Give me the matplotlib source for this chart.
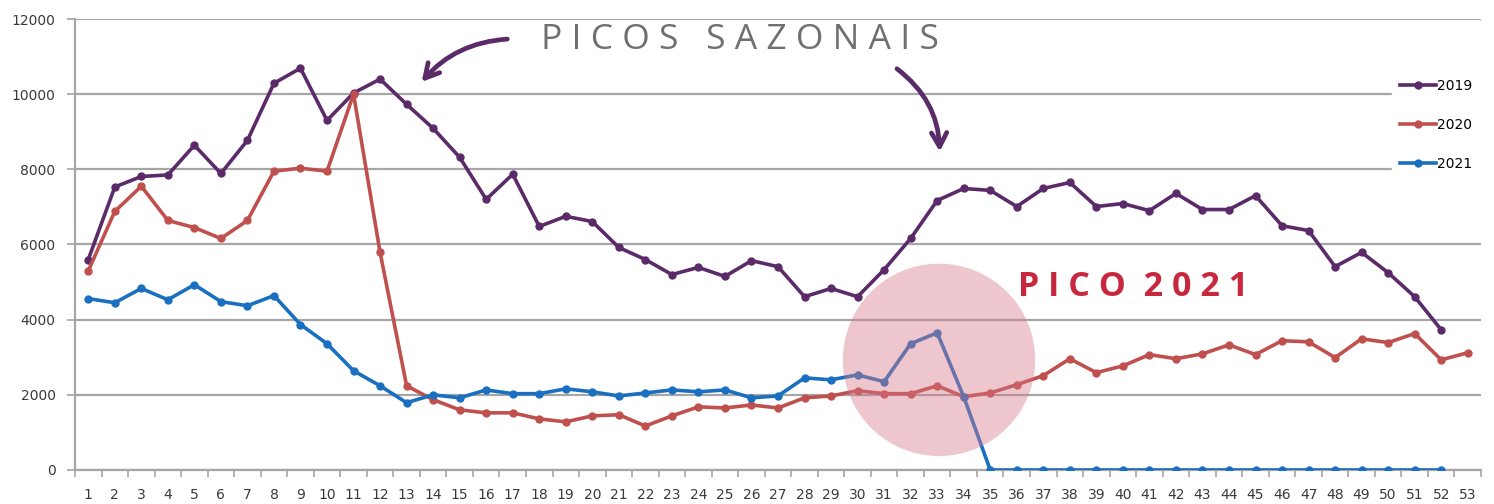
import numpy as np
import matplotlib
matplotlib.use('Agg')
import matplotlib.pyplot as plt
from matplotlib.patches import Ellipse

# weekly values (epidemiological weeks 1-53)
weeks = list(range(1, 54))

cases_2019 = [5600, 7530, 7810, 7850, 8640, 7890, 8770, 10290, 10690, 9300,
              10030, 10400, 9730, 9090, 8320, 7200, 7870, 6480, 6750, 6610,
              5920, 5600, 5200, 5390, 5150, 5570, 5410, 4610, 4830, 4610,
              5330, 6160, 7170, 7490, 7440, 7010, 7490, 7650, 7010, 7090,
              6900, 7360, 6930, 6930, 7300, 6500, 6370, 5410, 5790, 5250,
              4610, 3730]

cases_2020 = [5300, 6880, 7550, 6640, 6450, 6160, 6640, 7950, 8030, 7950,
              10000, 5790, 2240, 1870, 1600, 1520, 1520, 1360, 1280, 1440,
              1470, 1170, 1440, 1680, 1650, 1730, 1650, 1920, 1970, 2110,
              2030, 2030, 2240, 1950, 2050, 2270, 2510, 2960, 2590, 2770,
              3070, 2960, 3090, 3330, 3070, 3440, 3410, 2990, 3490, 3390,
              3630, 2930, 3120]

cases_2021 = [4560, 4450, 4830, 4530, 4930, 4480, 4370, 4640, 3870, 3360,
              2640, 2240, 1790, 2000, 1920, 2130, 2030, 2030, 2160, 2080,
              1970, 2050, 2130, 2080, 2130, 1920, 1970, 2450, 2400, 2530,
              2350, 3360, 3650, 1950, 0, 0, 0, 0, 0, 0,
              0, 0, 0, 0, 0, 0, 0, 0, 0, 0,
              0, 0]

purple = '#5b2a68'
red = '#c0504d'
blue = '#1a6fc0'

fig = plt.figure(figsize=(14.94, 5.04), dpi=100)
ax = fig.add_axes([0.0502, 0.0675, 0.9411, 0.8948])

ax.plot(weeks[:len(cases_2019)], cases_2019, color=purple, lw=2.6, marker='o', ms=5, label='2019', zorder=3)
ax.plot(weeks[:len(cases_2020)], cases_2020, color=red, lw=2.6, marker='o', ms=5, label='2020', zorder=3)
ax.plot(weeks[:len(cases_2021)], cases_2021, color=blue, lw=2.6, marker='o', ms=5, label='2021', zorder=3)

ax.set_xlim(0.5, 53.5)
ax.set_ylim(0, 12000)
ax.set_yticks(range(0, 12001, 2000))
ax.yaxis.grid(True, color='#a6a6a6', lw=1.6, zorder=0)
ax.set_axisbelow(True)

# category axis: tick marks between weeks, labels on weeks
ax.set_xticks(np.arange(0.5, 54, 1))
ax.set_xticklabels([])
ax.set_xticks(weeks, minor=True)
ax.set_xticklabels([str(w) for w in weeks], minor=True)
ax.tick_params(axis='x', which='major', length=5, width=1.2, color='#a6a6a6', direction='out')
ax.tick_params(axis='x', which='minor', length=0, pad=13, labelsize=10, labelcolor='#3a3a3a')
ax.tick_params(axis='y', length=6, width=1.2, color='#a6a6a6', labelsize=10, labelcolor='#3a3a3a', pad=8)

for s in ['top', 'right']:
    ax.spines[s].set_visible(False)
for s in ['left', 'bottom']:
    ax.spines[s].set_color('#a6a6a6')
    ax.spines[s].set_linewidth(1.6)

leg = ax.legend(loc='upper right', bbox_to_anchor=(1.0, 0.885), frameon=True, fontsize=10,
                labelspacing=1.8, handlelength=2.6, handletextpad=0.1, borderpad=0.6,
                borderaxespad=0.0)
leg.get_frame().set_edgecolor('white')
leg.get_frame().set_facecolor('white')
leg.get_frame().set_alpha(1)

# highlight circle around the 2021 peak
circ = Ellipse((33.07, 2930), width=7.25, height=5120, facecolor='#d7778a', alpha=0.42,
               edgecolor='none', zorder=4)
ax.add_patch(circ)

# annotations
fig.text(0.4955, 0.92, 'P I C O S   S A Z O N A I S', fontsize=25.5, color='#707070',
         family='Open Sans', ha='center', va='center')
fig.text(0.7585, 0.43, 'P I C O  2 0 2 1', fontsize=24.5, color='#c8283e', fontweight='bold',
         family='Open Sans', ha='center', va='center')

ax.annotate('', xy=(13.5, 10270), xytext=(16.9, 11470),
            arrowprops=dict(arrowstyle='->,head_length=1.0,head_width=0.55', color=purple, lw=3.4,
                            connectionstyle='arc3,rad=0.22'))
ax.annotate('', xy=(33.1, 8400), xytext=(31.4, 10720),
            arrowprops=dict(arrowstyle='->,head_length=1.0,head_width=0.55', color=purple, lw=3.4,
                            connectionstyle='arc3,rad=-0.25'))

plt.savefig('out.png', dpi=100)
